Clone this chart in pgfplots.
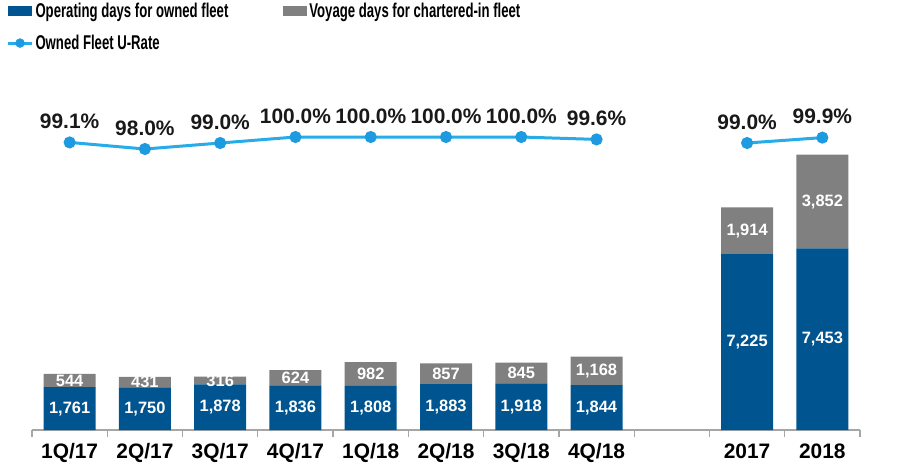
\documentclass[border=0pt]{standalone}
\usepackage{pgfplots}
\pgfplotsset{compat=1.18}
\usepackage{pgfplotstable}
\usepackage{fontspec}
\setmainfont{Liberation Sans}
\newfontfamily\narrowfont[FakeStretch=0.66]{Liberation Sans}

\definecolor{opblue}{HTML}{00548F}
\definecolor{chgray}{HTML}{808080}
\definecolor{urate}{HTML}{27ACE8}
\definecolor{uratedot}{HTML}{1E9BE0}
\definecolor{axisgray}{HTML}{A6A6A6}

% days per period (slot 8 is the empty gap)
\pgfplotstableread{
x owned chartered
0 1761 544
1 1750 431
2 1878 316
3 1836 624
4 1808 982
5 1883 857
6 1918 845
7 1844 1168
9 7225 1914
10 7453 3852
}\bars

% label positions (segment middles)
\pgfplotstableread{
x y label
0 880.5 1,761
1 875 1,750
2 939 1,878
3 918 1,836
4 904 1,808
5 941.5 1,883
6 959 1,918
7 922 1,844
9 3612.5 7,225
10 3726.5 7,453
0 2033 544
1 1965.5 431
2 2036 316
3 2148 624
4 2299 982
5 2311.5 857
6 2340.5 845
7 2428 1,168
9 8182 1,914
10 9379 3,852
}\barlabels

\pgfplotsset{
  base/.style={
    at={(0,0)}, anchor=south west,
    scale only axis, width=828bp, height=330bp,
    xmin=-0.5, xmax=10.5,
  },
  urline/.style={
    color=urate, line width=3bp, mark=*, mark size=4.5bp,
    mark options={fill=uratedot, draw=uratedot},
    point meta=explicit symbolic, nodes near coords,
    every node near coord/.append style={anchor=base, yshift=14bp, text=black!90,
      inner sep=0pt, font=\bfseries\fontsize{21}{21}\selectfont},
  },
}

\begin{document}
\begin{tikzpicture}
\path[use as bounding box] (-32bp,-35bp) rectangle (873bp,430bp);

\begin{axis}[base,
  ybar stacked, bar width=52bp,
  ymin=0, ymax=13550,
  axis x line=bottom, axis y line=none,
  x axis line style={-, draw=axisgray, line width=1.5bp},
  xtick={0,1,2,3,4,5,6,7,9,10},
  xticklabels={1Q/17,2Q/17,3Q/17,4Q/17,1Q/18,2Q/18,3Q/18,4Q/18,2017,2018},
  major tick length=0pt,
  minor xtick={-0.5,0.5,...,10.5},
  minor tick length=7bp, tick align=outside,
  minor tick style={draw=axisgray, line width=1.2bp},
  xticklabel style={anchor=base, yshift=-28bp, text=black,
    font=\bfseries\fontsize{21}{21}\selectfont},
  legend columns=2, legend cell align=left,
  legend style={at={(-0.031,1.30)}, anchor=north west, draw=none, fill=none,
    font=\narrowfont\bfseries\fontsize{20}{20}\selectfont,
    /tikz/every even column/.append style={column sep=53bp},
    row sep=12bp, inner sep=0pt},
]
\addplot[fill=opblue, draw=none,
  legend image code/.code={\fill[opblue] (0bp,-5bp) rectangle (24bp,5bp);}]
  table[x=x, y=owned] {\bars};
\addplot[fill=chgray, draw=none,
  legend image code/.code={\fill[chgray] (0bp,-5bp) rectangle (24bp,5bp);}]
  table[x=x, y=chartered] {\bars};
\addlegendimage{legend image code/.code={
    \draw[urate, line width=3bp] (0bp,0bp) -- (24bp,0bp);
    \fill[uratedot] (12bp,0bp) circle (4.5bp);}}
\legend{Operating days for owned fleet, Voyage days for chartered-in fleet, Owned Fleet U-Rate}
\end{axis}

% white value labels inside the bars
\begin{axis}[base, ymin=0, ymax=13550, hide axis, clip=false]
\addplot[only marks, mark=*, mark size=0.01pt, mark options={draw=none, fill=none},
  point meta=explicit symbolic, nodes near coords, nodes near coords align=center,
  every node near coord/.append style={anchor=center, text=white, inner sep=0pt,
    font=\bfseries\fontsize{16.5}{16.5}\selectfont}]
  table[x=x, y=y, meta=label] {\barlabels};
\end{axis}

% U-rate line
\begin{axis}[base, ymin=51.17, ymax=106.17, hide axis, clip=false]
\addplot[urline] coordinates {(0,99.1) [99.1\%] (1,98.0) [98.0\%] (2,99.0) [99.0\%]
  (3,100.0) [100.0\%] (4,100.0) [100.0\%] (5,100.0) [100.0\%]
  (6,100.0) [100.0\%] (7,99.6) [99.6\%]};
\addplot[urline] coordinates {(9,99.0) [99.0\%] (10,99.9) [99.9\%]};
\end{axis}
\end{tikzpicture}
\end{document}
